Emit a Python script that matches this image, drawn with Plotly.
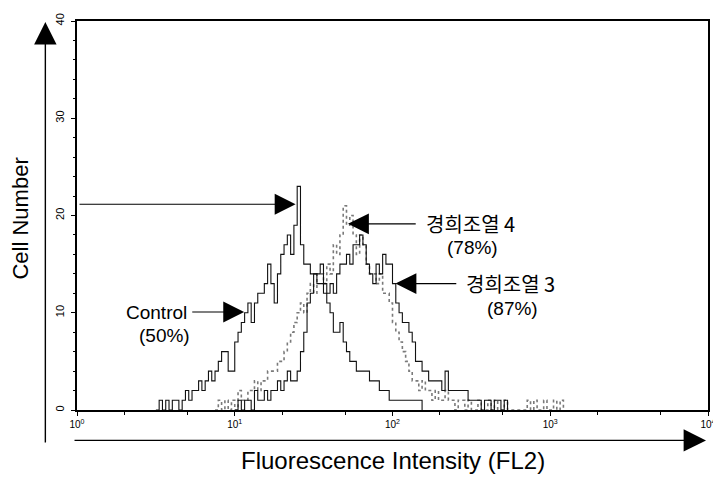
import numpy as np
import plotly.graph_objects as go

# Histogram channels: 48 channels per decade on a 4-decade log scale
CH_PER_DECADE = 48

control_start = 24
control_counts = [0, 1, 0, 1, 0, 1, 1, 0, 1, 2, 1, 2, 2, 3, 2, 3, 4, 3, 4, 5,
                  6, 6, 4, 4, 7, 8, 9, 10, 11, 9, 11, 12, 12, 13, 15, 13, 11, 14, 16, 17,
                  18, 16, 19, 23, 17, 15, 15, 14, 14, 13, 13, 12, 11, 10, 8, 8, 9, 7, 6, 5,
                  5, 4, 4, 4, 4, 3, 3, 3, 2, 2, 2, 1, 1, 1, 1, 1, 1, 1, 1, 1, 1, 0]

s4_start = 42
s4_counts = [0, 1, 0, 1, 0, 1, 0, 2, 1, 1, 2, 2, 3, 2, 3, 3, 4, 4, 4, 5,
             5, 6, 7, 8, 9, 10, 11, 10, 12, 13, 12, 14, 14, 13, 15, 14, 17, 16, 18, 21,
             19, 20, 18, 16, 18, 17, 15, 14, 14, 13, 14, 12, 12, 11, 9, 8, 7, 6, 5, 4,
             3, 3, 2, 3, 2, 2, 1, 2, 1, 1, 2, 1, 1, 0, 1, 1, 0, 1, 0, 0,
             1, 0, 0, 1, 0, 1, 0, 0, 1, 0, 0, 0, 0, 0, 0, 1, 0, 1, 0, 0,
             1, 0, 0, 1, 0, 1, 0]

s3_start = 48
s3_counts = [0, 1, 0, 1, 1, 0, 2, 1, 1, 2, 1, 2, 2, 3, 2, 3, 4, 3, 3, 4,
             6, 8, 11, 12, 14, 14, 15, 13, 12, 13, 12, 14, 15, 15, 16, 15, 17, 17, 18, 17,
             15, 14, 13, 15, 14, 16, 15, 15, 13, 11, 10, 9, 9, 8, 7, 5, 5, 4, 4, 3,
             3, 3, 3, 2, 4, 2, 2, 2, 2, 2, 2, 1, 1, 1, 1, 0, 1, 1, 0, 1,
             1, 0, 1, 0]

x_tickvals = [1, 10, 100, 1000, 10000]
x_ticktext = ["10<sup>0</sup>", "10<sup>1</sup>", "10<sup>2</sup>", "10<sup>3</sup>", "10<sup>4</sup>"]
y_tickvals = [0, 10, 20, 30, 40]


def xs(start, counts):
    ch = np.arange(start, start + len(counts))
    return 10 ** (ch / CH_PER_DECADE)


FONT = "Liberation Sans, Arial, Noto Sans CJK KR, sans-serif"
KFONT = "Noto Sans CJK KR, Liberation Sans, sans-serif"

fig = go.Figure()
fig.add_trace(go.Scatter(x=xs(s4_start, s4_counts), y=s4_counts, mode="lines",
                         line=dict(color="#7a7a7a", width=1.6, dash="dot", shape="hv"),
                         name="경희조열 4"))
fig.add_trace(go.Scatter(x=xs(s3_start, s3_counts), y=s3_counts, mode="lines",
                         line=dict(color="#111111", width=1.1, shape="hv"),
                         name="경희조열 3"))
fig.add_trace(go.Scatter(x=xs(control_start, control_counts), y=control_counts, mode="lines",
                         line=dict(color="#111111", width=1.1, shape="hv"),
                         name="Control"))

# page body has an 8px margin; the figure is sized to fill the rest of the window
OFF = 8
WIN_W, WIN_H = 721, 479
W, H = WIN_W - OFF, WIN_H - OFF
# plot area in window pixels
PL, PR, PT, PB = 77, 715, 13, 410
L, R, T, B = PL - OFF, WIN_W - PR, PT - OFF, WIN_H - PB
pw, ph = PR - PL, PB - PT


def lx(px):
    return (px - PL) / pw * 4.0


def ly(py):
    return (PB - py) / ph * 40.0


def pxp(px):
    return (px - PL) / pw


def pyp(py):
    return (PB - py) / ph


ann = []
arrow_common = dict(showarrow=True, arrowhead=2, arrowsize=3.8, arrowwidth=1.1,
                    arrowcolor="black", text="", axref="x", ayref="y", xref="x", yref="y")
# arrow to control peak from left axis
ann.append(dict(x=lx(298), y=ly(200), ax=lx(78), ay=ly(200), **arrow_common))
# control label arrow
ann.append(dict(x=lx(246), y=ly(310), ax=lx(192), ay=ly(310), **arrow_common))
# sample 4 arrow
ann.append(dict(x=lx(351), y=ly(220), ax=lx(421), ay=ly(220), **arrow_common))
# sample 3 arrow
ann.append(dict(x=lx(399), y=ly(281), ax=lx(462), ay=ly(281), **arrow_common))

txt = dict(showarrow=False, xref="paper", yref="paper", font=dict(family=FONT, size=19, color="black"))
ann.append(dict(x=pxp(190), y=pyp(310), text="Control", xanchor="right", yanchor="middle", **txt))
ann.append(dict(x=pxp(165), y=pyp(334), text="(50%)", xanchor="center", yanchor="middle", **txt))
ann.append(dict(x=pxp(477), y=pyp(244), text="(78%)", xanchor="center", yanchor="middle", **txt))
ann.append(dict(x=pxp(517), y=pyp(306), text="(87%)", xanchor="center", yanchor="middle", **txt))
ktxt = dict(showarrow=False, xref="paper", yref="paper", font=dict(family=KFONT, size=20, color="black"))
ann.append(dict(x=pxp(428), y=pyp(220), text="경희조열 4", xanchor="left", yanchor="middle", **ktxt))
ann.append(dict(x=pxp(468), y=pyp(281), text="경희조열 3", xanchor="left", yanchor="middle", **ktxt))

# axis titles
ann.append(dict(x=pxp(20), y=pyp(215), text="Cell Number", textangle=-90, xanchor="center", yanchor="middle",
                showarrow=False, xref="paper", yref="paper", font=dict(family=FONT, size=22, color="black")))
ann.append(dict(x=pxp(397), y=pyp(462), text="Fluorescence Intensity (FL2)", xanchor="center", yanchor="middle",
                showarrow=False, xref="paper", yref="paper", font=dict(family=FONT, size=24, color="black")))

# outer axis arrows
ann.append(dict(x=pxp(45), y=pyp(14), ax=0, ay=422, xref="paper", yref="paper", showarrow=True,
                arrowhead=2, arrowsize=3.2, arrowwidth=1.4, arrowcolor="black", text=""))
ann.append(dict(x=pxp(713), y=pyp(441), ax=-633, ay=0, xref="paper", yref="paper", showarrow=True,
                arrowhead=2, arrowsize=3.2, arrowwidth=1.4, arrowcolor="black", text=""))

fig.update_layout(
    width=W, height=H,
    margin=dict(l=L, r=R, t=T, b=B),
    paper_bgcolor="white", plot_bgcolor="white",
    showlegend=False,
    annotations=ann,
    font=dict(family=FONT, color="black"),
)
fig.update_xaxes(type="log", range=[0, 4], tickvals=x_tickvals, ticktext=x_ticktext,
                 tickfont=dict(size=10, family=FONT), ticks="outside", ticklen=4, tickcolor="black",
                 ticklabeloverflow="allow",
                 minor=dict(ticks="outside", ticklen=3, tickcolor="black", dtick="D2"),
                 showline=True, linecolor="black", linewidth=1.5, mirror=True,
                 showgrid=False, zeroline=False)
fig.update_yaxes(range=[0, 40], tickvals=y_tickvals, tickangle=-90,
                 tickfont=dict(size=11, family=FONT), ticks="outside", ticklen=4, tickcolor="black",
                 ticklabeloverflow="allow", ticklabelstandoff=3,
                 minor=dict(ticks="outside", ticklen=2, tickcolor="black", dtick=2),
                 showline=True, linecolor="black", linewidth=1.5, mirror=True,
                 showgrid=False, zeroline=False)

fig.write_html("out.html")
